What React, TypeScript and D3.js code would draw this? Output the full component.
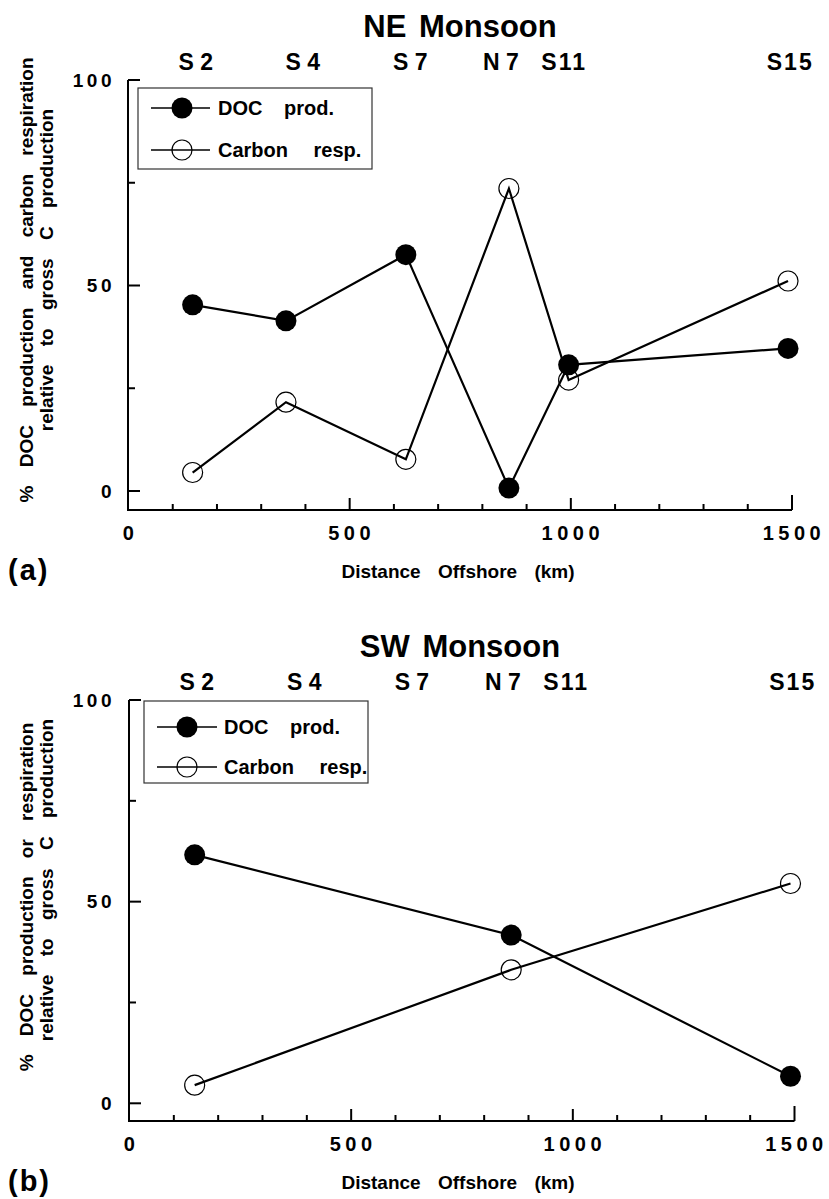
import React from "react";
import * as d3 from "d3";

// Station names along the cruise track and where their labels sit (km offshore)
const stationNames = ["S 2", "S 4", "S 7", "N 7", "S11", "S15"];
const stationLabelKm = [152, 394, 637, 842, 985, 1496];

// NE Monsoon (a)
const neDistanceKm = [145, 356, 627, 860, 995, 1491];
const neDocProd = [45.3, 41.4, 57.5, 0.7, 30.7, 34.7];
const neCarbonResp = [4.5, 21.6, 7.7, 73.6, 27.0, 51.1];

// SW Monsoon (b)
const swDistanceKm = [147, 861, 1491];
const swDocProd = [61.6, 41.7, 6.7];
const swCarbonResp = [4.5, 33.1, 54.5];

// Axis ticks
const xMajorTicks = [0, 500, 1000, 1500];
const xMinorTicks = [100, 200, 300, 400, 600, 700, 800, 900, 1100, 1200, 1300, 1400];
const yMajorTicks = [0, 50, 100];
const yMinorTicks = [25, 75];

const legendLabels = ["DOC prod.", "Carbon resp."];

const FONT = "'Liberation Sans', Arial, Helvetica, sans-serif";

type PanelProps = {
  title: string;
  panelLabel: string;
  yTitle: [string, string];
  distance: number[];
  doc: number[];
  resp: number[];
  x0: number;
  x1: number;
  yTop: number;
  yZero: number;
  axisY: number;
  dy: number; // vertical offset of the panel's text block
  yTitleCenters: [number, number];
  legend: { x: number; y: number; w: number; h: number; row1: number; row2: number; lx0: number; lx1: number; mx: number; tx: number };
};

function Panel(p: PanelProps) {
  const x = d3.scaleLinear().domain([0, 1500]).range([p.x0, p.x1]);
  const y = d3.scaleLinear().domain([0, 100]).range([p.yZero, p.yTop]);
  const axisX = p.x0 - 0.5;
  const line = d3
    .line<number>()
    .x((_, i) => x(p.distance[i]))
    .y((v) => y(v));

  return (
    <g fontFamily={FONT} fontWeight="bold" fill="#000">
      {/* title and station labels */}
      <text x={460} y={p.dy + 37} fontSize={31} textAnchor="middle" style={{ wordSpacing: "4px" }}>
        {p.title}
      </text>
      {stationNames.map((s, i) => (
        <text key={s} x={x(stationLabelKm[i])} y={p.dy + 70} fontSize={23} textAnchor="middle" style={{ whiteSpace: "pre", letterSpacing: s === "S11" || s === "S15" ? "2px" : "0px" }}>
          {s}
        </text>
      ))}

      {/* axes */}
      <line x1={axisX} x2={axisX} y1={p.yTop} y2={p.axisY} stroke="#000" strokeWidth={2} />
      <line x1={axisX - 1} x2={x(1500)} y1={p.axisY} y2={p.axisY} stroke="#000" strokeWidth={2} />
      {yMajorTicks.map((t) => (
        <g key={"ym" + t}>
          <line x1={axisX} x2={axisX + 12} y1={y(t)} y2={y(t)} stroke="#000" strokeWidth={2} />
          <text x={115} y={y(t)} dy="0.36em" fontSize={19} textAnchor="end" style={{ letterSpacing: "3.5px" }}>
            {t}
          </text>
        </g>
      ))}
      {yMinorTicks.map((t) => (
        <line key={"yn" + t} x1={axisX} x2={axisX + 7} y1={y(t)} y2={y(t)} stroke="#000" strokeWidth={2} />
      ))}
      {xMajorTicks.map((t) => (
        <g key={"xm" + t}>
          {t > 0 && (
            <line x1={x(t)} x2={x(t)} y1={p.axisY} y2={p.axisY - (t === 1500 ? 15 : 12)} stroke="#000" strokeWidth={2} />
          )}
          <text x={x(t) + 2} y={p.axisY + 30} fontSize={20} textAnchor="middle" style={{ letterSpacing: "4.5px" }}>
            {t}
          </text>
        </g>
      ))}
      {xMinorTicks.map((t) => (
        <line key={"xn" + t} x1={x(t)} x2={x(t)} y1={p.axisY} y2={p.axisY - 6} stroke="#000" strokeWidth={2} />
      ))}

      {/* axis titles */}
      <text x={458} y={p.axisY + 68} fontSize={19} textAnchor="middle" style={{ wordSpacing: "12px" }}>
        Distance Offshore (km)
      </text>
      <text x={8} y={p.axisY + 70} fontSize={29} style={{ letterSpacing: "2px" }}>
        {p.panelLabel}
      </text>
      <text transform={`translate(33,${p.yTitleCenters[0]}) rotate(-90)`} fontSize={19} textAnchor="middle" style={{ wordSpacing: "13px" }}>
        {p.yTitle[0]}
      </text>
      <text transform={`translate(53,${p.yTitleCenters[1]}) rotate(-90)`} fontSize={19} textAnchor="middle" style={{ wordSpacing: "13px" }}>
        {p.yTitle[1]}
      </text>

      {/* series */}
      <path d={line(p.doc) ?? ""} fill="none" stroke="#000" strokeWidth={2.2} />
      <path d={line(p.resp) ?? ""} fill="none" stroke="#000" strokeWidth={2.2} />
      {p.resp.map((v, i) => (
        <circle key={"r" + i} cx={x(p.distance[i])} cy={y(v)} r={10} fill="none" stroke="#000" strokeWidth={1.2} />
      ))}
      {p.doc.map((v, i) => (
        <circle key={"d" + i} cx={x(p.distance[i])} cy={y(v)} r={10.5} fill="#000" />
      ))}

      {/* legend */}
      <rect x={p.legend.x} y={p.legend.y} width={p.legend.w} height={p.legend.h} fill="#fff" stroke="#333" strokeWidth={1.2} />
      <line x1={p.legend.lx0} x2={p.legend.lx1} y1={p.legend.row1} y2={p.legend.row1} stroke="#000" strokeWidth={1.5} />
      <circle cx={p.legend.mx} cy={p.legend.row1} r={10.5} fill="#000" />
      <text x={p.legend.tx} y={p.legend.row1 + 7} fontSize={20} style={{ wordSpacing: "16px" }}>
        {legendLabels[0]}
      </text>
      <line x1={p.legend.lx0} x2={p.legend.lx1} y1={p.legend.row2} y2={p.legend.row2} stroke="#000" strokeWidth={1.5} />
      <circle cx={p.legend.mx} cy={p.legend.row2} r={10} fill="none" stroke="#000" strokeWidth={1.2} />
      <text x={p.legend.tx} y={p.legend.row2 + 7} fontSize={20} style={{ wordSpacing: "20px" }}>
        {legendLabels[1]}
      </text>
    </g>
  );
}

export default function App() {
  return (
    <svg
      width={829}
      height={1199}
      viewBox="0 0 829 1199"
      style={{ position: "absolute", left: 0, top: 0, display: "block", background: "#fff" }}
    >
      <rect width={829} height={1199} fill="#fff" />
      <Panel
        title="NE Monsoon"
        panelLabel="(a)"
        yTitle={["% DOC production and carbon respiration", "relative to gross C production"]}
        distance={neDistanceKm}
        doc={neDocProd}
        resp={neCarbonResp}
        x0={128.5}
        x1={792}
        yTop={80}
        yZero={491}
        axisY={510}
        dy={0}
        yTitleCenters={[280, 270]}
        legend={{ x: 138, y: 88, w: 234, h: 81, row1: 108, row2: 150, lx0: 151, lx1: 210, mx: 182, tx: 218 }}
      />
      <Panel
        title="SW Monsoon"
        panelLabel="(b)"
        yTitle={["% DOC production or respiration", "relative to gross C production"]}
        distance={swDistanceKm}
        doc={swDocProd}
        resp={swCarbonResp}
        x0={129.5}
        x1={794.5}
        yTop={700}
        yZero={1103.3}
        axisY={1121}
        dy={620}
        yTitleCenters={[897, 880]}
        legend={{ x: 144, y: 701, w: 224, h: 82, row1: 727, row2: 767, lx0: 157, lx1: 217, mx: 187, tx: 224 }}
      />
    </svg>
  );
}
